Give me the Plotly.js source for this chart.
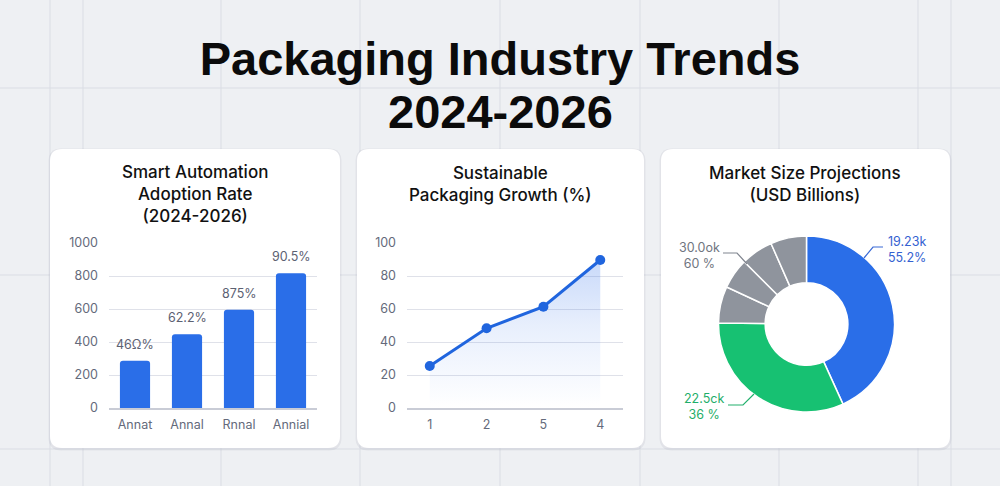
<!DOCTYPE html>
<html>
<head>
<meta charset="utf-8">
<script src="https://cdn.plot.ly/plotly-3.0.1.min.js"></script>
<style>
html,body{margin:0;padding:0;background:#eef0f3;}
#chart{width:1000px;height:486px;}
</style>
</head>
<body>
<div id="chart"></div>
<script>
// ---------- DATA ----------
const barCategories = ["Annat", "Annal", "Rnnal", "Annial"];
const barValues = [287, 447, 596, 816];
const barLabels = ["46Ω%", "62.2%", "875%", "90.5%"];

const lineCategories = ["1", "2", "5", "4"];
const lineValues = [25.5, 48.3, 61.4, 89.7];

const donutLabels = ["Segment A", "Segment B", "Segment C", "Segment D", "Segment E", "Segment F"];
const donutValues = [43.2, 32.0, 6.7, 5.6, 5.9, 6.6];
const donutLabelTexts = ["19.23k<br>55.2%", "22.5ck<br>36 %", "30.0ok<br>60 %"];

const mainTitle = "Packaging Industry Trends";
const mainSubtitle = "2024-2026";
const panelTitles = ["Smart Automation<br>Adoption Rate<br>(2024-2026)", "Sustainable<br>Packaging Growth (%)", "Market Size Projections<br>(USD Billions)"];

// ---------- helpers (pixel -> paper) ----------
const W = 1000, H = 486;
const px = x => x / W;
const py = y => 1 - y / H;
function rr(x0, y0, x1, y1, r) {
  const P = (x, y) => px(x) + "," + py(y);
  return "M" + P(x0 + r, y0) + " L" + P(x1 - r, y0) + " Q" + P(x1, y0) + " " + P(x1, y0 + r) +
    " L" + P(x1, y1 - r) + " Q" + P(x1, y1) + " " + P(x1 - r, y1) +
    " L" + P(x0 + r, y1) + " Q" + P(x0, y1) + " " + P(x0, y1 - r) +
    " L" + P(x0, y0 + r) + " Q" + P(x0, y0) + " " + P(x0 + r, y0) + " Z";
}

const blue = "#2a6ee8";
const green = "#17c172";
const gray = "#8f949d";
const tickFont = {family: "Inter, Roboto, sans-serif", size: 12.5, color: "#646a7b"};

// ---------- background shapes ----------
const shapes = [];
[50, 83, 221, 360, 500, 640, 779, 918, 951].forEach(x => {
  shapes.push({type: "line", xref: "paper", yref: "paper", x0: px(x), x1: px(x), y0: 0, y1: 1,
    line: {color: "#dadde4", width: 1}, layer: "below"});
});
[88, 275, 449].forEach(y => {
  shapes.push({type: "line", xref: "paper", yref: "paper", x0: 0, x1: 1, y0: py(y), y1: py(y),
    line: {color: "#dadde4", width: 1}, layer: "below"});
});
const cards = [[50, 149, 340, 448], [357, 149, 644, 448], [661, 149, 950, 448]];
cards.forEach(c => {
  shapes.push({type: "path", xref: "paper", yref: "paper", path: rr(c[0] - 1.5, c[1] - 0.5, c[2] + 1.5, c[3] + 2.5, 13),
    fillcolor: "rgba(30,40,70,0.06)", line: {width: 0}, layer: "below"});
  shapes.push({type: "path", xref: "paper", yref: "paper", path: rr(c[0], c[1], c[2], c[3], 12),
    fillcolor: "#ffffff", line: {width: 0}, layer: "below"});
});
// donut leader lines
const leaders = [
  {pts: [[864, 258], [873, 247], [883, 247]], color: "#3a6ad6"},
  {pts: [[728, 405], [743, 405], [754, 394]], color: "#22b06c"},
  {pts: [[723, 253], [737, 253], [747, 264]], color: "#80858f"}
];
leaders.forEach(l => {
  const p = l.pts.map(q => px(q[0]) + "," + py(q[1]));
  shapes.push({type: "path", xref: "paper", yref: "paper", path: "M" + p[0] + " L" + p[1] + " L" + p[2],
    line: {color: l.color, width: 1.2}});
});

// ---------- traces ----------
const traces = [
  {
    type: "bar", x: barCategories, y: barValues, xaxis: "x", yaxis: "y",
    marker: {color: blue, cornerradius: 3}, hoverinfo: "skip", showlegend: false
  },
  {
    type: "scatter", mode: "lines+markers", x: lineCategories, y: lineValues, xaxis: "x2", yaxis: "y2",
    line: {color: "#2065de", width: 3}, marker: {color: "#2065de", size: 10},
    fill: "tozeroy",
    fillgradient: {type: "vertical", start: 0, stop: 100,
      colorscale: [[0, "rgba(60,120,235,0.0)"], [0.5, "rgba(60,120,235,0.12)"], [1, "rgba(60,120,235,0.32)"]]},
    hoverinfo: "skip", showlegend: false
  },
  {
    type: "pie", labels: donutLabels, values: donutValues, hole: 0.47, sort: false,
    direction: "clockwise", rotation: 0, textinfo: "none", hoverinfo: "skip", showlegend: false,
    marker: {colors: [blue, green, gray, gray, gray, gray], line: {color: "#ffffff", width: 1.5}},
    domain: {x: [0.7185, 0.8945], y: [py(412), py(236)]}
  }
];

// ---------- annotations ----------
const annotations = [];
annotations.push({text: mainSubtitle, xref: "paper", yref: "paper", x: 0.5, y: py(111), xanchor: "center", yanchor: "middle",
  showarrow: false, font: {family: "Liberation Sans, Arial, sans-serif", size: 47, color: "#0b0b0b", weight: 700}});
const titleX = [195, 500, 805];
const titleY = [194, 184, 184];
panelTitles.forEach((t, i) => {
  annotations.push({text: t, xref: "paper", yref: "paper", x: px(titleX[i]), y: py(titleY[i]), xanchor: "center", yanchor: "middle",
    showarrow: false, align: "center", font: {family: "Inter, Roboto, sans-serif", size: 17, color: "#111111", weight: 500}});
});
barLabels.forEach((t, i) => {
  annotations.push({text: t, xref: "x", yref: "y", x: barCategories[i], y: barValues[i], yanchor: "bottom", yshift: 7,
    showarrow: false, font: {family: "Inter, Roboto, sans-serif", size: 12.5, color: "#5c6172"}});
});
const dl = [
  {x: 886, y: 249, xa: "left", color: "#3461d1", al: "left"},
  {x: 704, y: 406, xa: "center", color: "#1fae6a", al: "center"},
  {x: 699, y: 255, xa: "center", color: "#707580", al: "center"}
];
donutLabelTexts.forEach((t, i) => {
  annotations.push({text: t, xref: "paper", yref: "paper", x: px(dl[i].x), y: py(dl[i].y), xanchor: dl[i].xa, yanchor: "middle",
    align: dl[i].al, showarrow: false, font: {family: "Inter, Roboto, sans-serif", size: 12.5, color: dl[i].color}});
});

// ---------- layout ----------
const yDom = [py(408), py(243)];
const layout = {
  width: W, height: H,
  margin: {l: 0, r: 0, t: 0, b: 0},
  paper_bgcolor: "#eef0f3",
  plot_bgcolor: "rgba(0,0,0,0)",
  title: {text: mainTitle, xref: "paper", yref: "paper", x: 0.5, y: py(59), xanchor: "center", yanchor: "middle",
    font: {family: "Liberation Sans, Arial, sans-serif", size: 47, color: "#0b0b0b", weight: 700}},
  xaxis: {domain: [0.109, 0.317], anchor: "y", type: "category", range: [-0.5, 3.5], showgrid: false, zeroline: false,
    showline: true, linecolor: "#c9ccd6", linewidth: 1.5, ticks: "", tickfont: tickFont, ticklabelstandoff: 4, fixedrange: true},
  yaxis: {domain: yDom, anchor: "x", range: [0, 1000], dtick: 200, showgrid: true, gridcolor: "#dfe1e9", gridwidth: 1, zeroline: false,
    showline: false, ticks: "", tickfont: tickFont, ticklabelstandoff: 10, fixedrange: true},
  xaxis2: {domain: [0.407, 0.623], anchor: "y2", type: "category", range: [-0.4, 3.4], showgrid: false, zeroline: false,
    showline: true, linecolor: "#c9ccd6", linewidth: 1.5, ticks: "", tickfont: tickFont, ticklabelstandoff: 4, fixedrange: true},
  yaxis2: {domain: yDom, anchor: "x2", range: [0, 100], dtick: 20, showgrid: true, gridcolor: "#dfe1e9", gridwidth: 1, zeroline: false,
    showline: false, ticks: "", tickfont: tickFont, ticklabelstandoff: 10, fixedrange: true},
  bargap: 0.42,
  shapes: shapes,
  annotations: annotations
};

Plotly.newPlot("chart", traces, layout, {displayModeBar: false, staticPlot: true});
</script>
</body>
</html>
